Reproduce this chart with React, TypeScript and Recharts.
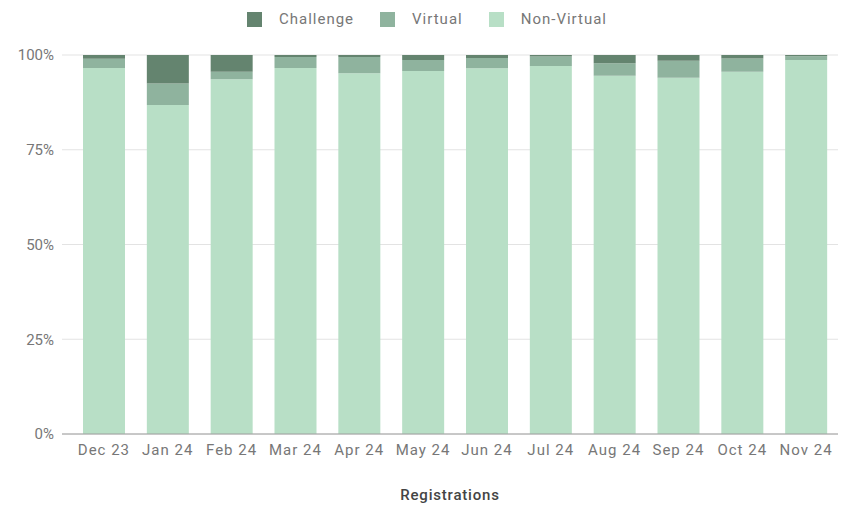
import React from "react";
import {
  BarChart,
  Bar,
  XAxis,
  YAxis,
  CartesianGrid,
  Legend,
} from "recharts";

const months = [
  "Dec 23", "Jan 24", "Feb 24", "Mar 24", "Apr 24", "May 24",
  "Jun 24", "Jul 24", "Aug 24", "Sep 24", "Oct 24", "Nov 24",
];
// share of registrations, in percent
const nonVirtual = [96.6, 86.8, 93.6, 96.6, 95.2, 95.8, 96.5, 97.1, 94.5, 94.0, 95.6, 98.7];
const virtual = [2.4, 5.7, 2.0, 2.9, 4.3, 2.9, 2.7, 2.5, 3.3, 4.5, 3.5, 1.0];
const challenge = [1.0, 7.5, 4.4, 0.5, 0.5, 1.3, 0.8, 0.4, 2.2, 1.5, 0.9, 0.3];
const yTicks = [0, 0.25, 0.5, 0.75, 1];

const COLORS = {
  challenge: "#64846f",
  virtual: "#8fb39e",
  nonVirtual: "#b8dfc6",
};

const legendItems = [
  { label: "Challenge", color: COLORS.challenge },
  { label: "Virtual", color: COLORS.virtual },
  { label: "Non-Virtual", color: COLORS.nonVirtual },
];

const data = months.map((m, i) => ({
  name: m,
  nonVirtual: nonVirtual[i],
  virtual: virtual[i],
  challenge: challenge[i],
}));

const font = "Roboto, 'Noto Sans', sans-serif";

function TopLegend() {
  return (
    <div
      style={{
        height: 30,
        display: "flex",
        justifyContent: "center",
        alignItems: "center",
        fontFamily: font,
        fontSize: 15,
        letterSpacing: 1,
        color: "#777",
        paddingLeft: 7,
      }}
    >
      {legendItems.map((it, i) => (
        <div
          key={it.label}
          style={{ display: "flex", alignItems: "center", marginLeft: i === 0 ? 0 : 26 }}
        >
          <span
            style={{
              display: "inline-block",
              width: 15,
              height: 15,
              background: it.color,
              marginRight: 17,
            }}
          />
          <span>{it.label}</span>
        </div>
      ))}
    </div>
  );
}

export default function App() {
  return (
    <div style={{ position: "absolute", left: 0, top: 0, background: "#fff" }}>
      <BarChart
        width={847}
        height={505}
        data={data}
        stackOffset="expand"
        margin={{ top: 25, right: 9, left: 0, bottom: 3 }}
      >
        <CartesianGrid vertical={false} stroke="#e3e3e3" />
        <Legend
          verticalAlign="top"
          align="center"
          content={() => <TopLegend />}
          wrapperStyle={{ top: 4, left: 0, width: 847 }}
        />
        <XAxis
          dataKey="name"
          padding={{ left: 10, right: 0 }}
          tickLine={false}
          tickMargin={4}
          axisLine={{ stroke: "#9e9e9e" }}
          tick={{ fill: "#777", fontSize: 15, fontFamily: font, letterSpacing: 1 }}
          height={68}
          label={{
            value: "Registrations",
            position: "insideBottom",
            offset: 2,
            fill: "#444",
            fontSize: 15,
            fontWeight: 500,
            letterSpacing: 0.8,
            fontFamily: font,
          }}
        />
        <YAxis
          width={62}
          ticks={yTicks}
          domain={[0, 1]}
          tickFormatter={(v: number) => `${Math.round(v * 100)}%`}
          tickLine={false}
          axisLine={false}
          tick={{ fill: "#777", fontSize: 15, fontFamily: font }}
        />
        <Bar dataKey="nonVirtual" name="Non-Virtual" stackId="a" fill={COLORS.nonVirtual} barSize={42} isAnimationActive={false} />
        <Bar dataKey="virtual" name="Virtual" stackId="a" fill={COLORS.virtual} barSize={42} isAnimationActive={false} />
        <Bar dataKey="challenge" name="Challenge" stackId="a" fill={COLORS.challenge} barSize={42} isAnimationActive={false} />
      </BarChart>
    </div>
  );
}
